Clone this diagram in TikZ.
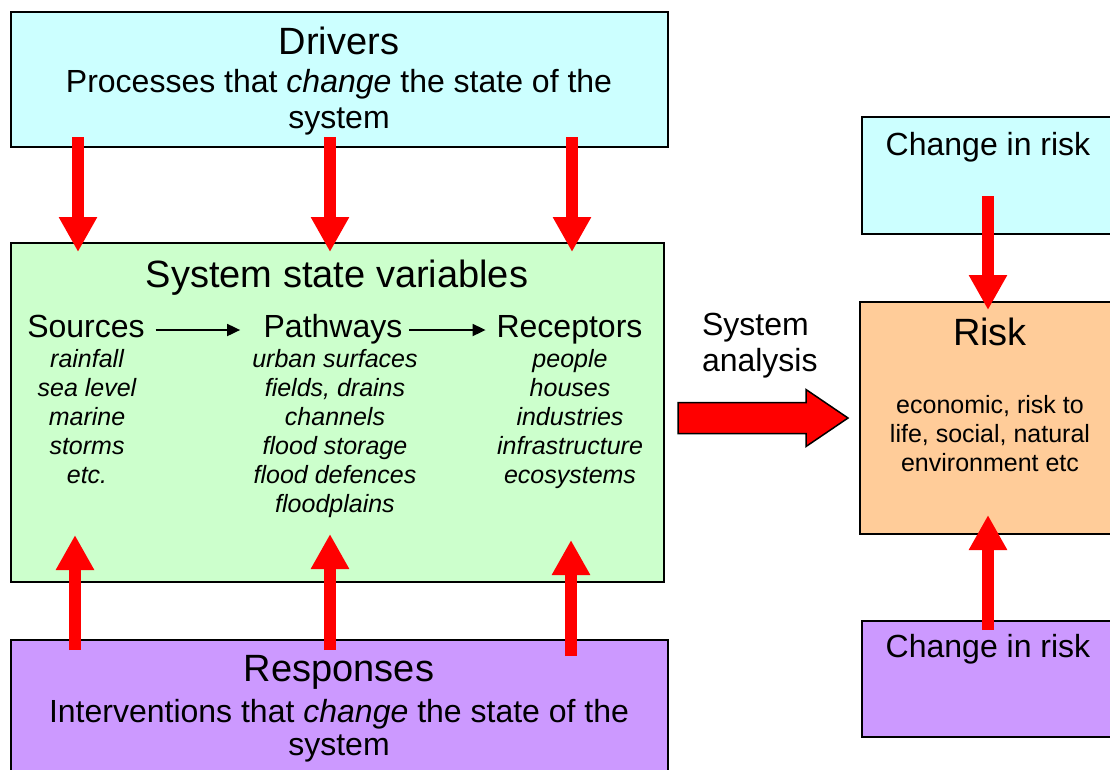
\documentclass[tikz,border=0pt]{standalone}
\usepackage{fontspec}
\setmainfont{Liberation Sans}
\usetikzlibrary{arrows.meta,calc}

\definecolor{cyanbg}{HTML}{CCFFFF}
\definecolor{greenbg}{HTML}{CCFFCC}
\definecolor{purplebg}{HTML}{CC99FF}
\definecolor{orangebg}{HTML}{FFCC99}
\definecolor{flow}{HTML}{FF0000}

\tikzset{
  box/.style={draw=black, line width=1.6pt, inner sep=0pt, outer sep=0pt, anchor=north west},
  lbl/.style={anchor=base, inner sep=0pt, outer sep=0pt},
  ttl/.style={lbl, font=\fontsize{38}{44}\selectfont},
  sub/.style={lbl, font=\fontsize{32}{38}\selectfont},
  itm/.style={lbl, font=\fontsize{25}{29}\selectfont\itshape},
  small/.style={lbl, font=\fontsize{25}{29}\selectfont},
  redarrow/.style={draw=flow, line width=12pt, -{Triangle[width=36pt,length=35pt]}},
  thinarrow/.style={draw=black, line width=1.8pt, -{Triangle[width=12pt,length=13pt]}},
  bigarrow/.style={draw=black, line width=1.5pt, fill=flow, line join=miter},
}

\begin{document}
\begin{tikzpicture}[x=1pt, y=-1pt]
  \clip (0,0) rectangle (1110,769);
  \fill[white] (0,0) rectangle (1110,769);

  % boxes
  \node[box, fill=cyanbg, minimum width=657, minimum height=135] (drivers) at (11,12) {};
  \node[box, fill=greenbg, minimum width=653, minimum height=339] (state) at (11,243) {};
  \node[box, fill=purplebg, minimum width=657, minimum height=160] (responses) at (11,640) {};
  \node[box, fill=cyanbg, minimum width=270, minimum height=117] (chgtop) at (862,117) {};
  \node[box, fill=orangebg, minimum width=272, minimum height=232] (risk) at (860,302) {};
  \node[box, fill=purplebg, minimum width=270, minimum height=116] (chgbot) at (862,621) {};

  % drivers text
  \node[ttl] (drvT) at (339,54) {Drivers};
  \node[sub] (drvS1) at (339,92) {Processes that \textit{change} the state of the};
  \node[sub] (drvS2) at (339,128) {system};

  % system state variables
  \node[ttl] (stT) at (337,287) {System state variables};
  \node[sub] (srcH) at (86,337) {Sources};
  \node[sub] (pathH) at (333,337) {Pathways};
  \node[sub] (recH) at (569.5,337) {Receptors};
  \foreach \t [count=\i] in {rainfall, sea level, marine, storms, etc.}
    \node[itm] (src\i) at (87,338+29*\i) {\t};
  \foreach \t [count=\i] in {urban surfaces, {fields, drains}, channels, flood storage, flood defences, floodplains}
    \node[itm] (path\i) at (335,338+29*\i) {\t};
  \foreach \t [count=\i] in {people, houses, industries, infrastructure, ecosystems}
    \node[itm] (rec\i) at (570,338+29*\i) {\t};
  \draw[thinarrow] ([shift={(11,-7)}]srcH.base east) -- ([shift={(-23.5,-7)}]pathH.base west);
  \draw[thinarrow] ([shift={(7,-7)}]pathH.base east) -- ([shift={(-11,-7)}]recH.base west);

  % responses text
  \node[ttl] (rspT) at (339,681) {Responses};
  \node[sub] (rspS1) at (339,722) {Interventions that \textit{change} the state of the};
  \node[sub] (rspS2) at (339,755) {system};

  % right column text
  \node[sub] (chgtopT) at (988,155) {Change in risk};
  \node[sub] (chgbotT) at (988,657) {Change in risk};
  \node[ttl] (riskT) at (990,345) {Risk};
  \node[small] (riskL1) at (990,413) {economic, risk to};
  \node[small] (riskL2) at (990,442) {life, social, natural};
  \node[small] (riskL3) at (990,471) {environment etc};
  \node[sub, anchor=base west] (anaL1) at (702,335) {System};
  \node[sub, anchor=base west] (anaL2) at (702,371) {analysis};

  % drivers act on the system state
  \draw[redarrow] ([xshift=67pt,yshift=10pt]drivers.south west) -- ([xshift=67pt,yshift=-9pt]state.north west);
  \draw[redarrow] ([xshift=319pt,yshift=10pt]drivers.south west) -- ([xshift=319pt,yshift=-9pt]state.north west);
  \draw[redarrow] ([xshift=561pt,yshift=10pt]drivers.south west) -- ([xshift=561pt,yshift=-9pt]state.north west);

  % responses act on the system state
  \draw[redarrow] ([xshift=64pt,yshift=-10pt]responses.north west) -- ([xshift=64pt,yshift=47pt]state.south west);
  \draw[redarrow] ([xshift=319pt,yshift=-10pt]responses.north west) -- ([xshift=319pt,yshift=48pt]state.south west);
  \draw[redarrow] ([xshift=560pt,yshift=-16pt]responses.north west) -- ([xshift=560pt,yshift=42pt]state.south west);

  % changes in risk
  \draw[redarrow] ([xshift=126pt,yshift=38pt]chgtop.south west) -- ([xshift=128pt,yshift=-8pt]risk.north west);
  \draw[redarrow] ([xshift=126pt,yshift=-9pt]chgbot.north west) -- ([xshift=128pt,yshift=19pt]risk.south west);

  % system analysis block arrow
  \coordinate (ba) at ([shift={(14,5.5)}]state.east);
  \draw[bigarrow] (ba) ++(0,-15.5) -- ++(128,0) -- ++(0,-13) -- ++(42,28.5)
    -- ++(-42,28.5) -- ++(0,-13) -- ++(-128,0) -- cycle;
\end{tikzpicture}
\end{document}
